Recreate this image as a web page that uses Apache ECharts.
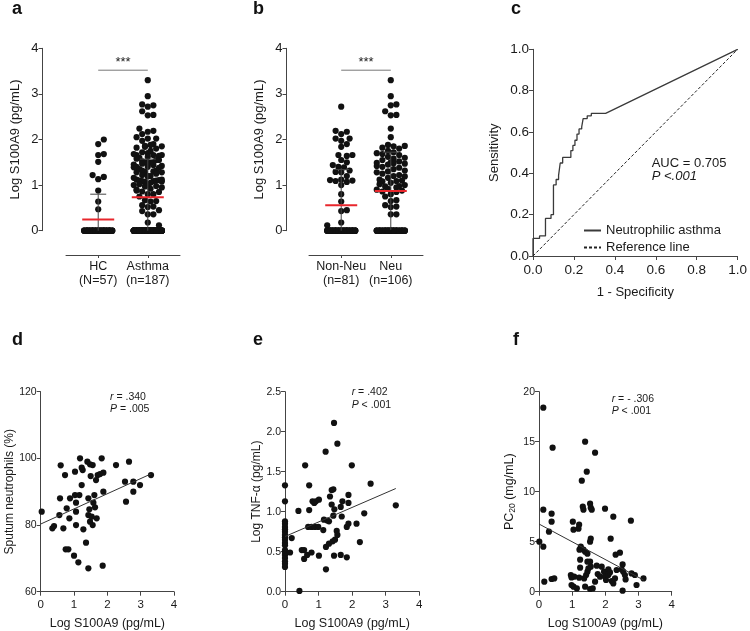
<!DOCTYPE html>
<html><head><meta charset="utf-8">
<script src="https://cdn.jsdelivr.net/npm/echarts@6/dist/echarts.min.js"></script>
<style>html,body{margin:0;padding:0;background:#fff}#c{width:750px;height:631px}</style>
</head><body><div id="c"></div>
<script>
// ---------------- DATA ----------------
const catsA = ['HC\n(N=57)', 'Asthma\n(n=187)'];
const catsB = ['Non-Neu\n(n=81)', 'Neu\n(n=106)'];
const hcVals = [2.00,1.90,1.68,1.66,1.51,1.22,1.18,1.13,0.88,0.64,0.47,
  0,0,0,0,0,0,0,0,0,0,0,0,0,0,0,0,0,0,0,0,0,0,0,0,0,0,0,0,0,0,0,0,0,0,0,0,0,0,0,0,0,0,0,0,0,0,0];
const nonNeuVals = [2.72,2.19,2.17,2.12,2.02,2.02,1.97,1.90,1.84,1.66,1.66,1.64,1.55,1.50,1.44,1.40,1.39,1.32,1.29,1.28,1.20,1.12,1.11,1.10,1.09,1.07,1.00,0.80,0.64,0.45,0.43,0.18,0.12,
  0,0,0,0,0,0,0,0,0,0,0,0,0,0,0,0,0,0,0,0,0,0,0,0,0,0,0,0,0,0,0,0,0,0,0,0,0,0,0,0,0,0,0,0,0,0,0,0];
const neuVals = [3.30,2.95,2.77,2.75,2.62,2.54,2.53,2.24,
  2.05,1.88,1.86,1.85,1.82,1.80,
  1.75,1.72,1.70,1.68,1.66,
  1.62,1.60,1.58,1.55,
  1.52,1.50,1.49,1.48,1.47,1.45,
  1.42,1.40,1.38,1.35,
  1.32,1.30,1.28,1.25,
  1.22,1.20,1.19,1.16,
  1.12,1.10,1.09,1.08,1.05,
  1.02,1.00,0.98,0.97,0.95,
  0.92,0.90,0.88,0.86,0.85,
  0.80,0.75,0.67,0.65,0.56,0.53,0.52,0.36,0.36,
  0,0,0,0,0,0,0,0,0,0,0,0,0,0,0,0,0,0,0,0,0,0,0,0,0,0,0,0,0,0,0,0,0,0,0,0,0,0,0,0,0];
const asthmaVals = nonNeuVals.concat(neuVals);
const sigY = 3.52;
const sigText = '***';

const rocFpr = [0,0,0.032,0.032,0.061,0.061,0.088,0.088,0.100,0.100,0.113,0.113,0.125,0.125,0.133,0.133,0.145,0.145,0.185,0.185,0.195,0.195,0.205,0.205,0.215,0.215,0.225,0.225,0.238,0.238,0.245,0.245,0.265,0.265,0.285,0.285,0.355,1];
const rocTpr = [0,0.085,0.085,0.097,0.097,0.182,0.182,0.200,0.200,0.344,0.344,0.370,0.370,0.390,0.390,0.450,0.450,0.477,0.477,0.510,0.510,0.535,0.535,0.560,0.560,0.590,0.590,0.615,0.615,0.625,0.625,0.665,0.665,0.678,0.678,0.690,0.690,1];
const refX = [0,1];
const refY = [0,1];

const dX = [0.03,0.35,0.40,0.60,0.58,0.56,0.68,0.73,0.78,0.86,0.88,0.75,0.83,1.00,1.03,1.06,1.03,1.16,1.06,1.06,1.13,1.18,1.23,1.26,1.23,1.28,1.36,1.40,1.43,1.43,1.48,1.56,1.50,1.46,1.48,1.53,1.43,1.58,1.61,1.63,1.66,1.68,1.56,1.71,1.78,1.83,1.88,1.88,1.86,2.26,2.53,2.56,2.65,2.78,2.78,2.98,3.31];
const dY = [84.0,79.0,79.7,97.9,88.0,83.0,79.0,95.0,85.0,82.0,88.0,72.7,72.7,70.8,96.0,86.7,89.0,89.0,84.0,80.0,68.8,100.0,97.2,96.5,92.0,78.7,74.7,99.0,88.0,83.0,98.2,98.0,94.7,84.7,81.0,82.5,67.0,86.7,89.0,85.3,93.5,82.0,80.0,95.0,95.3,100.0,95.7,90.0,67.8,98.0,93.0,87.0,99.0,93.0,90.0,92.0,95.0];
const dFitX = [0, 3.3], dFitY = [80.3, 95.3];

const eX = [0,0,0,0,0,0,0,0,0,0,0,0,0,0,0,0,0,0,0,
  0.15,0.20,0.43,0.40,0.60,0.50,0.57,0.57,0.66,0.72,0.72,0.82,0.87,0.92,1.01,0.69,0.79,0.89,0.99,0.79,1.01,1.14,1.16,1.21,1.26,1.31,1.22,1.22,1.31,1.34,1.39,1.44,1.39,1.44,1.47,1.42,1.49,1.46,1.46,1.56,1.54,1.56,1.66,1.66,1.71,1.69,1.84,1.84,1.89,1.89,1.89,1.99,2.13,2.23,2.36,2.55,3.30];
const eY = [1.33,1.13,0.88,0.85,0.81,0.78,0.75,0.71,0.68,0.65,0.61,0.58,0.52,0.49,0.46,0.42,0.38,0.35,0.31,
  0.49,0.67,0.01,1.01,1.58,0.52,0.52,0.41,0.46,1.33,1.02,1.13,1.11,1.13,1.15,0.81,0.81,0.81,0.81,0.49,0.45,0.77,0.90,1.75,0.89,0.88,0.28,0.56,0.60,1.19,1.27,1.28,1.09,0.95,1.03,0.63,0.65,0.45,2.11,1.85,0.76,0.71,0.46,1.06,1.13,0.94,0.43,0.81,0.85,1.21,1.11,1.58,0.85,0.62,0.98,1.35,1.08];
const eFitX = [0, 3.3], eFitY = [0.69, 1.29];

const fX = [0.01,0.13,0.13,0.13,0.16,0.30,0.38,0.38,0.41,0.38,0.46,1.02,1.04,1.21,1.19,1.29,1.32,1.34,1.39,1.44,1.69,1.54,1.56,1.59,1.22,1.26,1.34,1.39,1.46,1.56,1.54,1.24,1.46,1.54,1.99,2.24,2.16,2.31,2.44,2.77,
  0.96,0.98,1.06,0.98,1.04,1.14,1.21,1.24,1.36,1.39,1.42,1.46,1.49,1.56,1.54,1.62,1.69,1.74,1.77,1.84,1.89,1.96,1.99,2.02,2.09,2.09,2.14,2.19,2.24,2.29,2.34,2.49,2.52,2.59,2.61,2.54,2.52,2.79,2.89,2.94,3.15];
const fY = [5.0,4.5,18.4,8.2,1.0,6.0,7.8,7.0,14.4,1.27,1.33,7.0,6.2,6.7,6.3,11.1,8.5,8.2,15.0,12.0,13.9,8.8,8.4,8.2,4.2,4.5,4.2,4.0,3.8,5.3,5.0,3.2,3.0,3.0,8.3,7.5,5.3,3.7,3.9,7.1,
  1.67,1.43,1.5,0.67,0.5,0.33,1.4,2.4,1.33,0.5,1.67,2.0,2.33,2.5,0.27,0.33,1.0,2.6,1.77,1.5,2.5,2.0,1.5,1.17,2.23,1.67,1.93,1.07,0.83,1.33,2.17,2.23,2.73,1.67,1.23,2.0,0.1,1.83,1.67,0.67,1.33];
const fFitX = [0, 3.15], fFitY = [6.77, 1.17];

// ---------------- LAYOUT ----------------
const FONT = '"Liberation Sans", Arial, Helvetica, sans-serif';
const AX = '#444', TX = '#1a1a1a';
const grids = [
  {left:66, top:48.3, width:114, height:182.4},
  {left:309, top:48.3, width:114, height:182.4},
  {left:533, top:49.3, width:208, height:206.7},
  {left:40.7, top:391.7, width:133.3, height:200},
  {left:285, top:391.7, width:134.3, height:200},
  {left:539, top:391.7, width:132.7, height:200}
];
const DOT = 6.2, STEP = 2.8, MAXOFF = 14, MIND = 5.6;

function swarm(vals, ppu) {
  const idx = vals.map((v, i) => i).sort((a, b) => vals[a] - vals[b]);
  const cands = [0];
  for (let k = 1; k * STEP <= MAXOFF + 0.01; k++) cands.push(k * STEP, -k * STEP);
  const placed = [], off = new Array(vals.length);
  let ov = 0;
  for (const i of idx) {
    const y = vals[i] * ppu;
    let chosen = null;
    for (const c of cands) {
      let ok = true;
      for (const p of placed) {
        const dx = p[0] - c, dy = p[1] - y;
        if (dx * dx + dy * dy < MIND * MIND) { ok = false; break; }
      }
      if (ok) { chosen = c; break; }
    }
    if (chosen === null) { chosen = cands[ov % cands.length]; ov++; }
    placed.push([chosen, y]);
    off[i] = chosen;
  }
  return off;
}
function mean(a) { return a.reduce((s, v) => s + v, 0) / a.length; }
function sd(a) { const m = mean(a); return Math.sqrt(a.reduce((s, v) => s + (v - m) * (v - m), 0) / (a.length - 1)); }

function swarmData(groups, ppu) {
  const out = [];
  groups.forEach((vals, g) => {
    const off = swarm(vals, ppu);
    vals.forEach((v, i) => out.push({value: [g, v], symbolOffset: [off[i], 0]}));
  });
  return out;
}
const ppuAB = grids[0].height / 4;

function errRender(params, api) {
  const x = api.value(0), m = api.value(1), s = api.value(2);
  const pm = api.coord([x, m]);
  const pu = api.coord([x, m + s]);
  const pl = api.coord([x, Math.max(m - s, 0)]);
  return {type: 'group', children: [
    {type: 'line', shape: {x1: pu[0], y1: pu[1], x2: pl[0], y2: pl[1]}, style: {stroke: '#444', lineWidth: 1}},
    {type: 'line', shape: {x1: pu[0] - 8, y1: pu[1], x2: pu[0] + 8, y2: pu[1]}, style: {stroke: '#444', lineWidth: 1}},
    {type: 'line', shape: {x1: pm[0] - 16, y1: pm[1], x2: pm[0] + 16, y2: pm[1]}, style: {stroke: '#e8262c', lineWidth: 2}}
  ]};
}
function sigRender(params, api) {
  const a = api.coord([api.value(0), api.value(2)]);
  const b = api.coord([api.value(1), api.value(2)]);
  return {type: 'group', children: [
    {type: 'line', shape: {x1: a[0], y1: a[1], x2: b[0], y2: b[1]}, style: {stroke: '#777', lineWidth: 1}},
    {type: 'text', x: (a[0] + b[0]) / 2, y: a[1] - 1, style: {text: sigText, fontSize: 13, fontFamily: FONT, fill: TX, align: 'center', verticalAlign: 'bottom'}}
  ]};
}

function catX(gi, cats, offset) {
  return {gridIndex: gi, type: 'value', min: -0.65, max: 1.65, offset: offset,
    axisLine: {onZero: false, lineStyle: {color: AX}},
    axisTick: {customValues: [0, 1], length: 3, lineStyle: {color: AX}},
    axisLabel: {customValues: [0, 1], formatter: v => cats[Math.round(v)], fontSize: 12.5, lineHeight: 14.5, color: TX, margin: 4, fontFamily: FONT},
    splitLine: {show: false}};
}
function valAxis(gi, o) {
  return Object.assign({gridIndex: gi, type: 'value',
    axisLine: {show: true, onZero: false, lineStyle: {color: AX}},
    axisTick: {show: true, length: 4, lineStyle: {color: AX}},
    splitLine: {show: false},
    nameLocation: 'middle',
    nameTextStyle: {fontSize: 12, color: TX, fontFamily: FONT}
  }, o);
}
function lbl(size, fmt, margin) {
  return {fontSize: size, color: TX, fontFamily: FONT, formatter: fmt, margin: margin};
}
function zip(a, b) { return a.map((v, i) => [v, b[i]]); }
const dotStyle = {color: '#111', opacity: 1};

const option = {
  animation: false,
  textStyle: {fontFamily: FONT},
  grid: grids,
  legend: {data: ['Neutrophilic asthma', 'Reference line'], orient: 'vertical', left: 578, top: 219,
    itemWidth: 17, itemHeight: 8, itemGap: 4, itemStyle: {opacity: 0, borderWidth: 0},
    textStyle: {fontSize: 13, color: TX, fontFamily: FONT}},
  xAxis: [
    catX(0, catsA, 24.3),
    catX(1, catsB, 24.3),
    valAxis(2, {min: 0, max: 1, interval: 0.2, name: '1 - Specificity', nameGap: 30, nameTextStyle: {fontSize: 13, color: TX, fontFamily: FONT}, axisLabel: lbl(13.5, v => v.toFixed(1), 7)}),
    valAxis(3, {min: 0, max: 4, interval: 1, name: 'Log S100A9 (pg/mL)', nameGap: 25, nameTextStyle: {fontSize: 12.5, color: TX, fontFamily: FONT}, axisLabel: lbl(11.5, null, 7)}),
    valAxis(4, {min: 0, max: 4, interval: 1, name: 'Log S100A9 (pg/mL)', nameGap: 25, nameTextStyle: {fontSize: 12.5, color: TX, fontFamily: FONT}, axisLabel: lbl(11.5, null, 7)}),
    valAxis(5, {min: 0, max: 4, interval: 1, name: 'Log S100A9 (pg/mL)', nameGap: 25, nameTextStyle: {fontSize: 12.5, color: TX, fontFamily: FONT}, axisLabel: lbl(11.5, null, 7)})
  ],
  yAxis: [
    valAxis(0, {min: 0, max: 4, interval: 1, offset: 23.5, name: 'Log S100A9 (pg/mL)', nameGap: 21, nameTextStyle: {fontSize: 13, color: TX, fontFamily: FONT}, axisLabel: lbl(13, null, 4)}),
    valAxis(1, {min: 0, max: 4, interval: 1, offset: 22.5, name: 'Log S100A9 (pg/mL)', nameGap: 21, nameTextStyle: {fontSize: 13, color: TX, fontFamily: FONT}, axisLabel: lbl(13, null, 4)}),
    valAxis(2, {min: 0, max: 1, interval: 0.2, name: 'Sensitivity', nameGap: 32, nameTextStyle: {fontSize: 13, color: TX, fontFamily: FONT}, axisLabel: lbl(13.5, v => v.toFixed(1), 4)}),
    valAxis(3, {min: 60, max: 120, interval: 20, name: 'Sputum neutrophils (%)', nameGap: 20, axisLabel: lbl(10.5, null, 4)}),
    valAxis(4, {min: 0, max: 2.5, interval: 0.5, name: 'Log TNF-α (pg/mL)', nameGap: 21, axisLabel: lbl(10.5, v => v.toFixed(1), 4)}),
    valAxis(5, {min: 0, max: 20, interval: 5, name: '{a|PC}{s|20}{a| (mg/mL)}', nameGap: 22,
      nameTextStyle: {fontSize: 12.5, color: TX, fontFamily: FONT, rich: {
        a: {fontSize: 12.5, color: TX, fontFamily: FONT, verticalAlign: 'top', lineHeight: 14},
        s: {fontSize: 8.5, color: TX, fontFamily: FONT, verticalAlign: 'bottom', lineHeight: 8, padding: [9, 0, 0, 0]}}},
      axisLabel: lbl(10.5, null, 4)})
  ],
  series: [
    {type: 'scatter', xAxisIndex: 0, yAxisIndex: 0, symbolSize: DOT, clip: false, itemStyle: dotStyle,
      data: swarmData([hcVals, asthmaVals], ppuAB)},
    {type: 'custom', xAxisIndex: 0, yAxisIndex: 0, z: 5, renderItem: errRender,
      data: [[0, mean(hcVals), sd(hcVals)], [1, mean(asthmaVals), sd(asthmaVals)]]},
    {type: 'custom', xAxisIndex: 0, yAxisIndex: 0, renderItem: sigRender, data: [[0, 1, sigY]]},
    {type: 'scatter', xAxisIndex: 1, yAxisIndex: 1, symbolSize: DOT, clip: false, itemStyle: dotStyle,
      data: swarmData([nonNeuVals, neuVals], ppuAB)},
    {type: 'custom', xAxisIndex: 1, yAxisIndex: 1, z: 5, renderItem: errRender,
      data: [[0, mean(nonNeuVals), sd(nonNeuVals)], [1, mean(neuVals), sd(neuVals)]]},
    {type: 'custom', xAxisIndex: 1, yAxisIndex: 1, renderItem: sigRender, data: [[0, 1, sigY]]},
    {name: 'Neutrophilic asthma', type: 'line', xAxisIndex: 2, yAxisIndex: 2, symbol: 'none',
      lineStyle: {color: '#3a3a3a', width: 1.3}, itemStyle: {color: '#3a3a3a', opacity: 0}, data: zip(rocFpr, rocTpr)},
    {name: 'Reference line', type: 'line', xAxisIndex: 2, yAxisIndex: 2, symbol: 'none',
      lineStyle: {color: '#222', width: 1, type: [3, 2]}, itemStyle: {color: '#222', opacity: 0}, data: zip(refX, refY)},
    {type: 'scatter', xAxisIndex: 3, yAxisIndex: 3, symbolSize: DOT, clip: false, itemStyle: dotStyle, data: zip(dX, dY)},
    {type: 'line', xAxisIndex: 3, yAxisIndex: 3, symbol: 'none', lineStyle: {color: '#333', width: 1}, data: zip(dFitX, dFitY)},
    {type: 'scatter', xAxisIndex: 4, yAxisIndex: 4, symbolSize: DOT, clip: false, itemStyle: dotStyle, data: zip(eX, eY)},
    {type: 'line', xAxisIndex: 4, yAxisIndex: 4, symbol: 'none', lineStyle: {color: '#333', width: 1}, data: zip(eFitX, eFitY)},
    {type: 'scatter', xAxisIndex: 5, yAxisIndex: 5, symbolSize: DOT, clip: false, itemStyle: dotStyle, data: zip(fX, fY)},
    {type: 'line', xAxisIndex: 5, yAxisIndex: 5, symbol: 'none', lineStyle: {color: '#333', width: 1}, data: zip(fFitX, fFitY)}
  ],
  graphic: [
    ...[['a', 12, 9.5], ['b', 253, 9.5], ['c', 511, 9.5], ['d', 12, 340], ['e', 253, 340], ['f', 513, 340]].map(t => ({
      type: 'text', x: t[1], y: t[2], style: {text: t[0], fontSize: 18, fontWeight: 'bold', fontFamily: FONT, fill: '#111', align: 'left', verticalAlign: 'middle'}})),
    {type: 'text', x: 651.7, y: 163.5, style: {text: 'AUC = 0.705', fontSize: 13, fontFamily: FONT, fill: TX, verticalAlign: 'middle'}},
    {type: 'text', x: 651.7, y: 176, style: {text: 'P <.001', fontSize: 13, fontStyle: 'italic', fontFamily: FONT, fill: TX, verticalAlign: 'middle'}},
    ...[['{i|r} = .340', '{i|P} = .005', 110, 397, 409], ['{i|r} = .402', '{i|P} < .001', 351.7, 392, 405], ['{i|r} = - .306', '{i|P} < .001', 611.7, 399, 411]].flatMap(t => [
      {type: 'text', x: t[2], y: t[3], style: {text: t[0], fontSize: 10.5, fontFamily: FONT, fill: TX, verticalAlign: 'middle', rich: {i: {fontSize: 10.5, fontStyle: 'italic', fontFamily: FONT, fill: TX}}}},
      {type: 'text', x: t[2], y: t[4], style: {text: t[1], fontSize: 10.5, fontFamily: FONT, fill: TX, verticalAlign: 'middle', rich: {i: {fontSize: 10.5, fontStyle: 'italic', fontFamily: FONT, fill: TX}}}}
    ])
  ]
};
const chart = echarts.init(document.getElementById('c'), null, {renderer: 'canvas'});
chart.setOption(option);
</script></body></html>
